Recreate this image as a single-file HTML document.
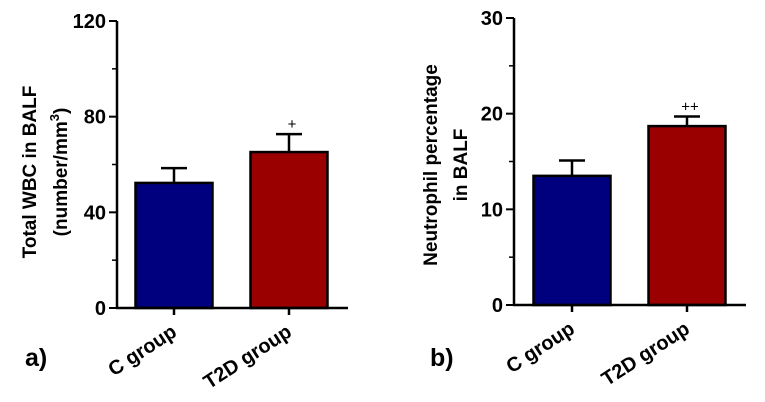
<!DOCTYPE html>
<html><head><meta charset="utf-8"><style>
html,body{margin:0;padding:0;background:#fff;}
svg{display:block;font-family:"Liberation Sans",Arial,sans-serif;font-weight:bold;}
</style></head><body>
<svg id="c" width="765" height="402" viewBox="0 0 765 402"></svg>
<script>
const categories = ["C group", "T2D group"];
const wbcValues = [52.3, 65.2];
const wbcErrors = [6.2, 7.5];
const wbcSig = ["", "+"];
const wbcTicks = [0, 40, 80, 120];
const neuValues = [13.5, 18.7];
const neuErrors = [1.6, 1.0];
const neuSig = ["", "++"];
const neuTicks = [0, 10, 20, 30];
const colors = ["#00007f", "#9b0000"];
const NS = "http://www.w3.org/2000/svg";
const svg = document.getElementById('c');
function mk(tag, attrs, parent, text){const e=document.createElementNS(NS,tag);for(const k in attrs)e.setAttribute(k,attrs[k]);if(text!==undefined)e.textContent=text;(parent||svg).appendChild(e);return e;}
function panel(o){
  const g=mk('g',{});
  
  
  const y=v=>o.y0-(v/o.max)*(o.y0-o.yTop);
  o.values.forEach((v,i)=>{
    const xc=o.xc[i], bw=77;
    const er=mk('line',{x1:xc,x2:xc,y1:y(v),y2:y(v+o.errors[i]),stroke:'#000','stroke-width':2.5},g);
    
    
    const cap=mk('line',{x1:xc-13,x2:xc+13,y1:y(v+o.errors[i]),y2:y(v+o.errors[i]),stroke:'#000','stroke-width':2.5},g);
    
    
    const r=mk('rect',{x:xc-bw/2,y:y(v),width:bw,height:o.y0-y(v),fill:colors[i],stroke:'#000','stroke-width':2.5},g);
    
    
    if(o.sig[i]){
      const s=mk('text',{x:xc+3,y:y(v+o.errors[i])-5,'text-anchor':'middle','font-size':15,'font-weight':'normal'},g,o.sig[i]);
      
      
    }
    mk('line',{x1:xc,x2:xc,y1:o.y0,y2:o.y0+7,stroke:'#000','stroke-width':2.5},g);
    const lb=mk('text',{transform:`translate(${xc+4},${o.y0+27}) rotate(-33)`,'text-anchor':'end','font-size':20},g,categories[i]);
    
    
  });
  const ya=mk('line',{x1:o.ax,x2:o.ax,y1:o.yTop,y2:o.y0,stroke:'#000','stroke-width':2.5},g);
  
  
  const xa=mk('line',{x1:o.ax-1,x2:o.xEnd,y1:o.y0,y2:o.y0,stroke:'#000','stroke-width':2.5},g);
  
  
  o.ticks.forEach((t,i)=>{
    mk('line',{x1:o.ax-8,x2:o.ax,y1:y(t),y2:y(t),stroke:'#000','stroke-width':2},g);
    const tl=mk('text',{x:o.ax-11,y:y(t)+7,'text-anchor':'end','font-size':20},g,t);
    
    
    if(i<o.ticks.length-1){const m=(t+o.ticks[i+1])/2;mk('line',{x1:o.ax-5,x2:o.ax,y1:y(m),y2:y(m),stroke:'#000','stroke-width':1.5},g);}
  });
  const yt=mk('text',{transform:`translate(${o.labX},${o.labY}) rotate(-90)`,'text-anchor':'middle','font-size':19},g);
  
  
  o.title.forEach((l,i)=>{const ts=mk('tspan',{x:0,dy:i?o.lh:0},yt);ts.innerHTML=l;});
  const pl=mk('text',{x:o.pX,y:366,'font-size':25},g,o.plabel);
  
  
}
panel({name:'panel-a-wbc',values:wbcValues,errors:wbcErrors,sig:wbcSig,ticks:wbcTicks,max:120,y0:308,yTop:21,ax:117,xEnd:348,xc:[174,289],labX:36,labY:172,lh:31,title:['Total WBC in BALF','(number/mm<tspan dy="-8" font-size="13">3</tspan><tspan dy="8">)</tspan>'],plabel:'a)',pX:25});
panel({name:'panel-b-neutrophil',values:neuValues,errors:neuErrors,sig:neuSig,ticks:neuTicks,max:30,y0:305,yTop:18,ax:514,xEnd:746,xc:[572,687],labX:437,labY:165,lh:30,title:['Neutrophil percentage','in BALF'],plabel:'b)',pX:430});
</script>
</body></html>
